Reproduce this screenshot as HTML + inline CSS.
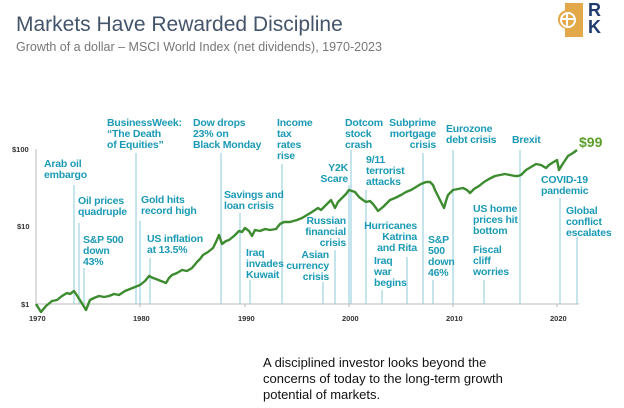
<!DOCTYPE html>
<html><head><meta charset="utf-8"><style>
body{margin:0;width:624px;height:408px;background:#fff;position:relative;overflow:hidden;font-family:"Liberation Sans",Arial,sans-serif}
.a{position:absolute;color:#1b9ab5;font-size:10.5px;line-height:11px;font-weight:bold;white-space:nowrap;letter-spacing:-0.2px}
.r{text-align:right}
.t{position:absolute;font-size:7.5px;color:#333;font-weight:bold}
</style></head><body>
<div style="position:absolute;left:16px;top:13px;font-size:21px;color:#44546a">Markets Have Rewarded Discipline</div>
<div style="position:absolute;left:16px;top:40px;font-size:12.5px;color:#777">Growth of a dollar – MSCI World Index (net dividends), 1970-2023</div>
<div style="position:absolute;left:565px;top:3px;width:18px;height:34px;background:#e3a84a"></div>
<div style="position:absolute;left:558px;top:10px;width:19px;height:19px;border-radius:50%;background:#e3a84a"></div>
<div style="position:absolute;left:560px;top:12px;width:12px;height:12px;border:2px solid #fff;border-radius:50%"></div>
<div style="position:absolute;left:566px;top:13px;width:2px;height:13px;background:#fff"></div>
<div style="position:absolute;left:561px;top:18px;width:13px;height:2px;background:#fff"></div>
<div style="position:absolute;left:588px;top:2px;font-size:18px;font-weight:bold;color:#1f3b6e;line-height:17px">R<br>K</div>
<svg width="624" height="408" style="position:absolute;left:0;top:0">
<g stroke="#9fd3e0" stroke-width="1.2">
<line x1="74" y1="185" x2="74" y2="304"/><line x1="79" y1="223" x2="79" y2="304"/><line x1="84" y1="268" x2="84" y2="304"/>
<line x1="136" y1="153" x2="136" y2="304"/><line x1="140" y1="221" x2="140" y2="304"/><line x1="150" y1="258" x2="150" y2="304"/>
<line x1="221" y1="153" x2="221" y2="304"/><line x1="240" y1="213" x2="240" y2="304"/><line x1="250" y1="280" x2="250" y2="304"/>
<line x1="282" y1="164" x2="282" y2="304"/><line x1="323" y1="282" x2="323" y2="304"/><line x1="335" y1="250" x2="335" y2="304"/>
<line x1="349" y1="185" x2="349" y2="304"/><line x1="351" y1="150" x2="351" y2="304"/><line x1="366" y1="190" x2="366" y2="304"/>
<line x1="382" y1="290" x2="382" y2="304"/><line x1="407" y1="257" x2="407" y2="304"/><line x1="423" y1="153" x2="423" y2="304"/>
<line x1="433" y1="280" x2="433" y2="304"/><line x1="453" y1="150" x2="453" y2="304"/><line x1="484" y1="280" x2="484" y2="304"/>
<line x1="520" y1="150" x2="520" y2="304"/><line x1="560" y1="198" x2="560" y2="304"/><line x1="577" y1="237" x2="577" y2="304"/>
</g>
<g stroke="#bbb" stroke-width="1"><line x1="36" y1="149" x2="36" y2="304"/><line x1="36" y1="304" x2="579" y2="304"/>
<line x1="36" y1="304" x2="36" y2="307"/><line x1="140" y1="304" x2="140" y2="307"/><line x1="245" y1="304" x2="245" y2="307"/><line x1="349" y1="304" x2="349" y2="307"/><line x1="453" y1="304" x2="453" y2="307"/><line x1="557" y1="304" x2="557" y2="307"/></g>
<polyline fill="none" stroke="#3d8b2f" stroke-width="2.4" stroke-linejoin="round" points="36,304 41,312 46,306 52,301 57,300 62,296 67,293 70,294 74,291 78,297 83,305 86,310 90,300 94,298 99,296 104,297 109,296 114,294 119,295 125,291 130,289 135,287 140,285 145,281 149,276 153,278 156,279 161,281 166,283 169,278 172,275 177,273 182,270 187,271 192,268 197,262 200,259 203,255 208,252 213,248 216,242 219,235 222,244 226,241 229,240 234,236 239,231 242,232 245,228 249,231 252,236 255,230 260,231 265,229 270,230 276,229 280,224 284,222 290,222 297,220 302,218 307,215 312,212 318,208 321,210 325,206 328,203 331,200 335,208 338,202 342,198 346,194 349,190 352,191 355,192 359,197 363,200 366,202 370,201 373,204 376,208 378,211 383,207 386,204 390,200 395,198 401,195 406,192 411,190 416,187 421,184 426,182 430,182 433,185 435,190 438,196 440,200 444,208 446,201 448,195 453,190 458,189 463,188 467,190 470,193 474,189 479,186 484,182 489,179 495,176 500,175 505,174 510,175 515,176 518,176 521,175 526,170 531,167 536,164 541,165 546,168 549,165 552,163 557,160 559,170 562,165 564,162 568,156 573,153 577,150"/>
</svg>
<div class="t" style="left:12px;top:145px">$100</div><div class="t" style="left:17px;top:222px">$10</div><div class="t" style="left:21px;top:300px">$1</div>
<div class="t" style="left:29px;top:314px">1970</div><div class="t" style="left:133px;top:314px">1980</div><div class="t" style="left:238px;top:314px">1990</div><div class="t" style="left:342px;top:314px">2000</div><div class="t" style="left:446px;top:314px">2010</div><div class="t" style="left:550px;top:314px">2020</div>
<div class="a" style="left:44px;top:159px">Arab oil<br>embargo</div>
<div class="a" style="left:78px;top:196px">Oil prices<br>quadruple</div>
<div class="a" style="left:83px;top:235px">S&amp;P 500<br>down<br>43%</div>
<div class="a" style="left:107px;top:118px">BusinessWeek:<br>“The Death<br>of Equities”</div>
<div class="a" style="left:141px;top:195px">Gold hits<br>record high</div>
<div class="a" style="left:147px;top:234px">US inflation<br>at 13.5%</div>
<div class="a" style="left:193px;top:118px">Dow drops<br>23% on<br>Black Monday</div>
<div class="a" style="left:224px;top:190px">Savings and<br>loan crisis</div>
<div class="a" style="left:246px;top:248px">Iraq<br>invades<br>Kuwait</div>
<div class="a" style="left:277px;top:118px">Income<br>tax<br>rates<br>rise</div>
<div class="a r" style="right:278px;top:216px">Russian<br>financial<br>crisis</div>
<div class="a r" style="right:295px;top:250px">Asian<br>currency<br>crisis</div>
<div class="a r" style="right:276px;top:163px">Y2K<br>Scare</div>
<div class="a" style="left:345px;top:118px">Dotcom<br>stock<br>crash</div>
<div class="a" style="left:366px;top:155px">9/11<br>terrorist<br>attacks</div>
<div class="a r" style="right:207px;top:221px">Hurricanes<br>Katrina<br>and Rita</div>
<div class="a" style="left:374px;top:256px">Iraq<br>war<br>begins</div>
<div class="a r" style="right:188px;top:118px">Subprime<br>mortgage<br>crisis</div>
<div class="a" style="left:428px;top:235px">S&amp;P<br>500<br>down<br>46%</div>
<div class="a" style="left:446px;top:124px">Eurozone<br>debt crisis</div>
<div class="a" style="left:473px;top:204px">US home<br>prices hit<br>bottom</div>
<div class="a" style="left:473px;top:245px">Fiscal<br>cliff<br>worries</div>
<div class="a" style="left:512px;top:135px">Brexit</div>
<div class="a" style="left:541px;top:175px">COVID-19<br>pandemic</div>
<div class="a" style="left:566px;top:206px">Global<br>conflict<br>escalates</div>
<div style="position:absolute;left:579px;top:134px;font-size:14px;font-weight:bold;color:#5a9e2a">$99</div>
<div style="position:absolute;left:263px;top:355px;font-size:13px;line-height:16px;color:#111">A disciplined investor looks beyond the<br>concerns of today to the long-term growth<br>potential of markets.</div>
</body></html>
